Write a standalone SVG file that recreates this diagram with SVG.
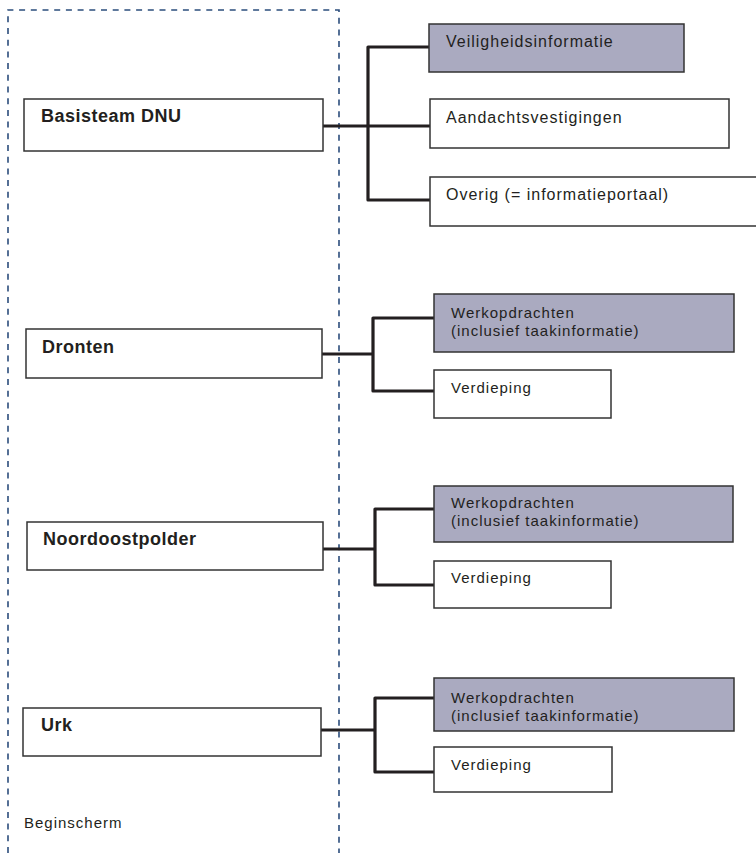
<svg xmlns="http://www.w3.org/2000/svg" width="756" height="853" viewBox="0 0 756 853">
<style>
.frame{fill:none;stroke:#2b4d7c;stroke-width:1.6;stroke-dasharray:6 5.7}
.box{fill:#ffffff;stroke:#333333;stroke-width:1.5}
.hl{fill:#aaaac0;stroke:#333333;stroke-width:1.5}
.conn{fill:none;stroke:#231f20;stroke-width:3.2;stroke-linejoin:round}
.bold{font-family:"Liberation Sans",Arial,sans-serif;font-weight:bold;font-size:18px;letter-spacing:0.5px;fill:#231f20}
.lbl{font-family:"Liberation Sans",Arial,sans-serif;font-size:16px;letter-spacing:1px;fill:#231f20}
.sm{font-family:"Liberation Sans",Arial,sans-serif;font-size:15px;letter-spacing:1px;fill:#231f20}
</style>
<path class="frame" d="M8,853 V10 H339 V853"/>
<text class="sm" x="24" y="828" letter-spacing="1.3">Beginscherm</text>
<g id="connectors">
<path class="conn" d="M323,126 H430"/>
<path class="conn" d="M430,47 H368 V200 H430"/>
<path class="conn" d="M322,354 H373"/>
<path class="conn" d="M434,318 H373 V391 H434"/>
<path class="conn" d="M323,549 H375"/>
<path class="conn" d="M434,509 H375 V585 H434"/>
<path class="conn" d="M321,730 H375"/>
<path class="conn" d="M434,698 H375 V772 H434"/>
</g>
<g id="basisteam">
<rect class="box" x="24" y="99" width="299" height="52"/>
<text class="bold" x="41" y="122">Basisteam DNU</text>
</g>
<g id="veiligheid">
<rect class="hl" x="429" y="24" width="255" height="48"/>
<text class="lbl" x="446" y="47">Veiligheidsinformatie</text>
</g>
<g id="aandacht">
<rect class="box" x="430" y="99" width="299" height="49"/>
<text class="lbl" x="446" y="123">Aandachtsvestigingen</text>
</g>
<g id="overig">
<rect class="box" x="430" y="177" width="332" height="49"/>
<text class="lbl" x="446" y="200">Overig (= informatieportaal)</text>
</g>
<g id="dronten">
<rect class="box" x="26" y="329" width="296" height="49"/>
<text class="bold" x="42" y="353">Dronten</text>
</g>
<g id="dronten-werk">
<rect class="hl" x="434" y="294" width="300" height="58"/>
<text class="sm" x="451" y="318">Werkopdrachten</text>
<text class="sm" x="451" y="336">(inclusief taakinformatie)</text>
</g>
<g id="dronten-verdieping">
<rect class="box" x="434" y="370" width="177" height="48"/>
<text class="sm" x="451" y="393">Verdieping</text>
</g>
<g id="noordoostpolder">
<rect class="box" x="27" y="522" width="296" height="48"/>
<text class="bold" x="43" y="545" letter-spacing="0.3">Noordoostpolder</text>
</g>
<g id="nop-werk">
<rect class="hl" x="434" y="486" width="299" height="56"/>
<text class="sm" x="451" y="508">Werkopdrachten</text>
<text class="sm" x="451" y="526">(inclusief taakinformatie)</text>
</g>
<g id="nop-verdieping">
<rect class="box" x="434" y="561" width="177" height="47"/>
<text class="sm" x="451" y="583">Verdieping</text>
</g>
<g id="urk">
<rect class="box" x="23" y="708" width="298" height="48"/>
<text class="bold" x="41" y="731">Urk</text>
</g>
<g id="urk-werk">
<rect class="hl" x="434" y="678" width="300" height="53"/>
<text class="sm" x="451" y="703">Werkopdrachten</text>
<text class="sm" x="451" y="721">(inclusief taakinformatie)</text>
</g>
<g id="urk-verdieping">
<rect class="box" x="434" y="747" width="178" height="45"/>
<text class="sm" x="451" y="770">Verdieping</text>
</g>
</svg>
